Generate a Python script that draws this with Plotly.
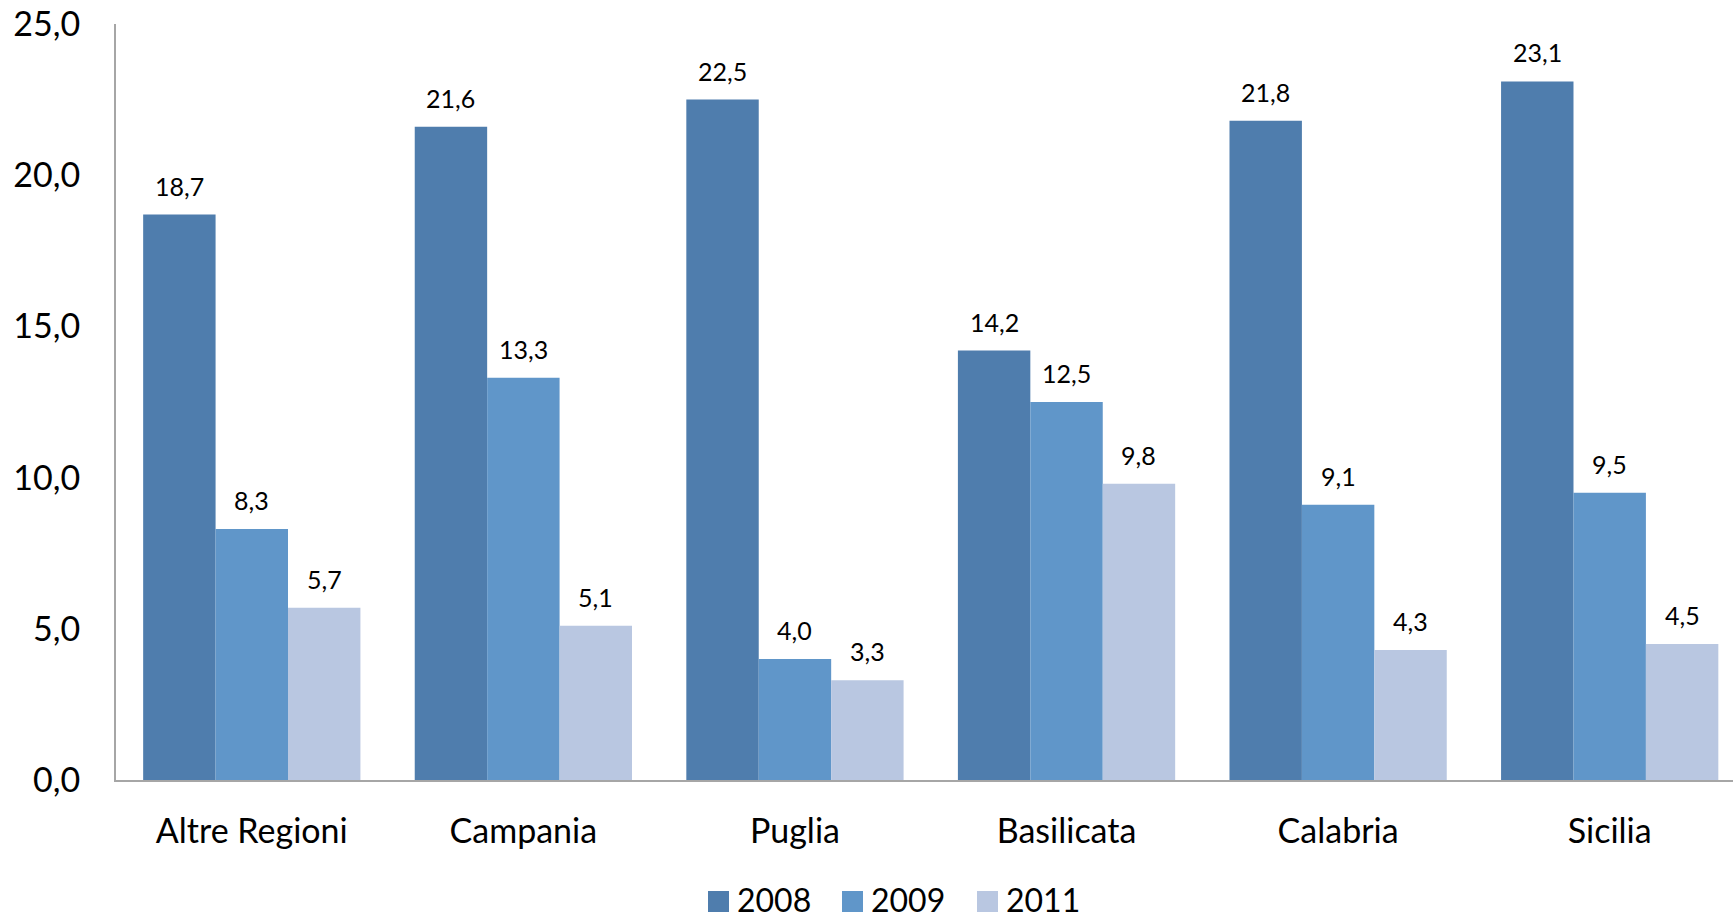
import plotly.graph_objects as go

# Regional values per year
regioni = ["Altre Regioni", "Campania", "Puglia", "Basilicata", "Calabria", "Sicilia"]
anni = ["2008", "2009", "2011"]
v2008 = [18.7, 21.6, 22.5, 14.2, 21.8, 23.1]
v2009 = [8.3, 13.3, 4.0, 12.5, 9.1, 9.5]
v2011 = [5.7, 5.1, 3.3, 9.8, 4.3, 4.5]
y_ticks = [0, 5, 10, 15, 20, 25]

serie = [v2008, v2009, v2011]
colori = ["#4F7DAD", "#6096C9", "#B9C7E1"]

W, H = 1733, 918
M_L, M_R, M_T, M_B = 116, 0, 24, 138
plot_w = W - M_L - M_R
plot_h = H - M_T - M_B

FONT = "Lato, 'Open Sans', sans-serif"


def fmt(v):
    return f"{v:.1f}".replace(".", ",")


fig = go.Figure()
for nome, vals, col in zip(anni, serie, colori):
    fig.add_trace(go.Bar(
        x=regioni, y=vals, name=nome,
        marker=dict(color=col, line=dict(width=0)),
        showlegend=False,
    ))

# Value labels above each bar
bargap = 0.2
bw = (1 - bargap) / len(serie)
for k, vals in enumerate(serie):
    off = (k - (len(serie) - 1) / 2) * bw
    for i, v in enumerate(vals):
        fig.add_annotation(
            x=i + off, y=v, xref="x", yref="y",
            text=fmt(v), showarrow=False,
            yanchor="bottom", yshift=12,
            font=dict(family=FONT, size=25, color="#000000"),
        )

# Legend row under the chart
def px_to_paper_x(px):
    return (px - M_L) / plot_w


def px_to_paper_y(py):
    return (H - M_B - py) / plot_h


leg_x0 = [708, 842, 977]
for nome, col, x0 in zip(anni, colori, leg_x0):
    fig.add_shape(
        type="rect", xref="paper", yref="paper",
        x0=px_to_paper_x(x0), x1=px_to_paper_x(x0 + 21),
        y0=px_to_paper_y(912), y1=px_to_paper_y(891),
        fillcolor=col, line=dict(width=0),
    )
    fig.add_annotation(
        x=px_to_paper_x(x0 + 28), y=px_to_paper_y(899),
        xref="paper", yref="paper", text=nome, showarrow=False,
        xanchor="left", yanchor="middle", borderpad=0,
        font=dict(family=FONT, size=32, color="#000000"),
    )

fig.update_layout(
    width=W, height=H,
    margin=dict(l=M_L, r=M_R, t=M_T, b=M_B, pad=0),
    paper_bgcolor="white", plot_bgcolor="white",
    barmode="group", bargap=bargap, bargroupgap=0,
    font=dict(family=FONT, color="#000000"),
    showlegend=False,
)
fig.update_xaxes(
    range=[-0.5, -0.5 + plot_w / (1617 / 5.954)],
    showline=True, linecolor="#A6A6A6", linewidth=2,
    ticks="", showgrid=False, zeroline=False,
    tickfont=dict(family=FONT, size=34, color="#000000"),
    ticklabelstandoff=20,
)
fig.update_yaxes(
    range=[0, 25],
    tickvals=y_ticks, ticktext=[fmt(t) for t in y_ticks],
    showline=True, linecolor="#A6A6A6", linewidth=2,
    ticks="", showgrid=False, zeroline=False,
    tickfont=dict(family=FONT, size=34, color="#000000"),
    ticklabelstandoff=27,
)

fig.write_html("out.html")
